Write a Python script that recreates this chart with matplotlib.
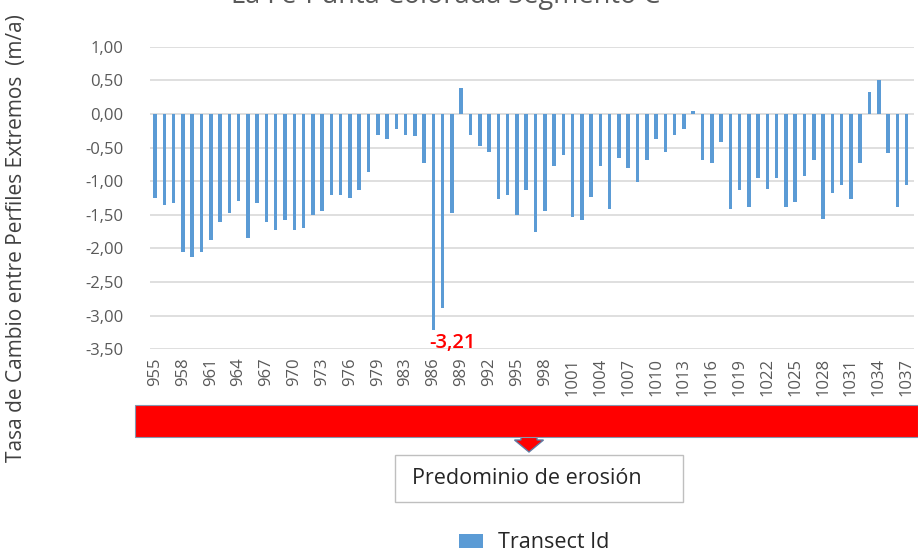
import matplotlib.pyplot as plt
from matplotlib.patches import Rectangle, FancyArrow

plt.rcParams['font.family'] = ['Open Sans', 'DejaVu Sans']

# datos: transectos (falta uno entre 979 y 983) y tasa de cambio (m/a)
transectos = list(range(955, 980)) + [981, 982] + list(range(983, 1038))
tasa = [
    -1.25, -1.36, -1.33, -2.05, -2.13, -2.05, -1.88, -1.60, -1.48, -1.30,
    -1.85, -1.33, -1.60, -1.73, -1.58, -1.73, -1.70, -1.50, -1.45, -1.20,
    -1.21, -1.25, -1.13, -0.86, -0.31, -0.38, -0.23, -0.31, -0.33, -0.73,
    -3.21, -2.88, -1.48, 0.38, -0.31, -0.48, -0.56, -1.26, -1.21, -1.50,
    -1.13, -1.75, -1.45, -0.78, -0.61, -1.53, -1.58, -1.23, -0.78, -1.41,
    -0.66, -0.81, -1.01, -0.68, -0.38, -0.56, -0.31, -0.23, 0.04, -0.68,
    -0.73, -0.41, -1.41, -1.13, -1.38, -0.96, -1.11, -0.96, -1.38, -1.31,
    -0.93, -0.68, -1.56, -1.18, -1.06, -1.26, -0.73, 0.33, 0.51, -0.58,
    -1.38, -1.06,
]
yticks = [1.0, 0.5, 0.0, -0.5, -1.0, -1.5, -2.0, -2.5, -3.0, -3.5]

W, H = 918, 554
fig = plt.figure(figsize=(W / 100, H / 100), dpi=100)
ax = fig.add_axes([150 / W, 1 - 349.3 / H, (914 - 150) / W, (349.3 - 46.7) / H])

x = list(range(len(tasa)))
ax.bar(x, tasa, width=0.38, color='#5B9BD5', zorder=3, label='Transect Id')

ax.set_ylim(-3.5, 1.0)
ax.set_xlim(-0.55, 81.8)
ax.set_yticks(yticks)
ax.set_yticklabels([f'{v:.2f}'.replace('.', ',') for v in yticks])
ax.set_xticks(x[::3])
ax.set_xticklabels(transectos[::3], rotation=90)
ax.tick_params(length=0, colors='#595959', labelsize=12)
ax.tick_params(axis='y', pad=19)
ax.tick_params(axis='x', pad=6)
ax.grid(axis='y', color='#D9D9D9', linewidth=1.2, zorder=0)
for s in ax.spines.values():
    s.set_visible(False)

# etiqueta del mínimo
imin = tasa.index(min(tasa))
ax.annotate(f'{min(tasa):.2f}'.replace('.', ','), (imin, min(tasa)),
            xytext=(-3, -2), textcoords='offset points', ha='left', va='top',
            color='#FF0000', fontsize=14.5, fontweight='semibold')

# título (cortado arriba)
fig.text(446 / W, 1 - 3 / H, 'La Fe-Punta Colorada Segmento C', ha='center',
         va='baseline', fontsize=19.5, color='#595959')

# eje y
fig.text(17 / W, 1 - 238 / H, 'Tasa de Cambio entre Perfiles Extremos  (m/a)',
         rotation=90, ha='center', va='center', fontsize=15, color='#404040')

# flecha, banda roja y cuadro de texto
fig.patches.append(FancyArrow(529 / W, 1 - 432 / H, 0, -8 / H, width=16 / W,
                              head_width=29 / W, head_length=12 / H,
                              length_includes_head=False, transform=fig.transFigure,
                              facecolor='#FF0000', edgecolor='#5E7BA3', linewidth=1.0))
fig.patches.append(Rectangle((135 / W, 1 - 437 / H), (W - 135) / W, 32 / H,
                             transform=fig.transFigure, facecolor='#FF0000',
                             edgecolor='#8497B0', linewidth=0.8))
fig.patches.append(Rectangle((395 / W, 1 - 502 / H), 288 / W, 47 / H,
                             transform=fig.transFigure, facecolor='white',
                             edgecolor='#BFBFBF', linewidth=1))
fig.text(412 / W, 1 - 478.5 / H, 'Predominio de erosión', ha='left', va='center',
         fontsize=15.5, color='#262626')

# leyenda
fig.legend(loc='center', bbox_to_anchor=(534 / W, 1 - 543 / H), frameon=False,
           fontsize=15.5, handlelength=1.1, handleheight=0.6, handletextpad=0.7,
           labelcolor='#262626')

fig.savefig('out.png', dpi=100)
